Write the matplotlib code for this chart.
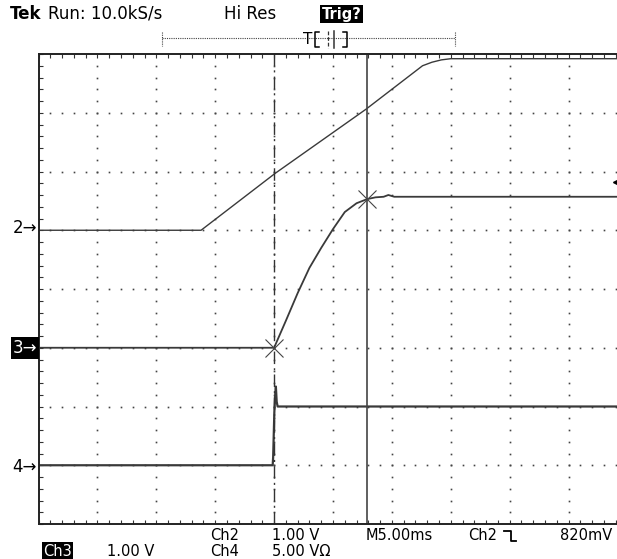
import numpy as np
import matplotlib.pyplot as plt
from matplotlib.lines import Line2D

W, H = 617, 559

# time in ms from left edge of screen (5 ms/div), volts per channel
ch2_t = [0, 13.8, 20.1, 27.8, 32.6, 33.4, 34.2, 35.0, 51]
ch2_v = [0, 0, 0.97, 2.06, 2.80, 2.86, 2.90, 2.92, 2.92]
ch3_t = [0, 20.0, 21.0, 22.0, 23.0, 24.0, 25.0, 26.0, 27.0, 27.9, 28.6, 29.3, 29.7, 30.2, 51]
ch3_v = [0, 0, 0.46, 0.93, 1.36, 1.70, 2.02, 2.31, 2.46, 2.53, 2.56, 2.57, 2.60, 2.57, 2.57]
ch4_t = [0, 19.88, 19.92, 20.02, 20.08, 20.15, 20.22, 20.3, 51]
ch4_v = [0, 0, 0.7, 4.5, 5.8, 6.7, 5.4, 5.0, 5.0]

gnd = {'2': 5.0, '3': 3.0, '4': 1.0}      # ground level in divisions
vdiv = {'2': 1.0, '3': 1.0, '4': 5.0}     # volts / div
cursor_t = [20.0, 27.9]
trig_level = 0.82

def div(ch, v):
    return gnd[ch] + np.asarray(v) / vdiv[ch]

fig = plt.figure(figsize=(W / 100, H / 100), dpi=100)
ax = fig.add_axes([38.5 / W, (H - 524) / H, 589 / W, 470 / H])
ax.set_xlim(0, 50)
ax.set_ylim(0, 8)

# graticule dots
for gx in range(5, 50, 5):
    yy = np.arange(0.2, 8, 0.2)
    ax.plot(np.full_like(yy, gx), yy, ls='none', marker='s', ms=1.2, mew=0, color='#444444')
for gy in range(1, 8):
    xx = np.arange(1, 50, 1.0)
    ax.plot(xx, np.full_like(xx, gy), ls='none', marker='s', ms=1.2, mew=0, color='#444444')

ax.set_xticks(np.arange(0, 51, 1), minor=True)
ax.set_yticks(np.arange(0, 8.01, 0.2), minor=True)
ax.set_xticks([])
ax.set_yticks([])
ax.tick_params(which='minor', direction='in', length=3, width=0.8,
               top=True, bottom=True, left=True, right=True,
               labelbottom=False, labelleft=False, color='#333333')
for s in ax.spines.values():
    s.set_linewidth(1.4)
    s.set_color('#222222')

# traces
ax.plot(ch2_t, div('2', ch2_v), color='#3a3a3a', lw=1.0)
ax.plot(ch3_t, div('3', ch3_v), color='#3a3a3a', lw=1.3)
ax.plot(ch4_t, div('4', ch4_v), color='#3a3a3a', lw=1.6)

# cursors
ax.axvline(cursor_t[0], color='#333333', lw=1.0, ls=(0, (9, 3, 1.5, 3)))
ax.axvline(cursor_t[1], color='#444444', lw=1.2)
ax.plot(cursor_t, div('3', np.interp(cursor_t, ch3_t, ch3_v)), ls='none',
        marker='x', ms=13, mew=0.8, color='#444444')

# trigger level marker
ax.plot([49.4], [gnd['2'] + trig_level], marker='<', ms=10, color='black', clip_on=False)

def ft(px, py, s, **kw):
    kw.setdefault('fontsize', 10.5)
    kw.setdefault('va', 'center')
    return fig.text(px / W, 1 - py / H, s, **kw)

def fl(xs, ys, **kw):
    fig.add_artist(Line2D([x / W for x in xs], [1 - y / H for y in ys], **kw))

# ground markers
ft(37, 228, '2\u2192', ha='right', fontsize=12)
ft(37, 467, '4\u2192', ha='right', fontsize=12)
ft(37, 348, '3\u2192', ha='right', color='white', fontsize=12,
   bbox=dict(facecolor='black', edgecolor='none', pad=1.5))

# header
ft(10, 14, 'Tek', fontweight='bold', fontsize=12)
ft(48, 14, 'Run: 10.0kS/s', fontsize=12)
ft(224, 14, 'Hi Res', fontsize=12)
ft(322, 14, 'Trig?', color='white', fontweight='bold',
   bbox=dict(facecolor='black', edgecolor='none', pad=1.2))

# record bar
fl([162, 455], [38, 38], color='#444444', lw=0.8, ls=(0, (1, 1)))
fl([162, 162], [32, 46], color='#444444', lw=0.8, ls=(0, (1, 1)))
fl([455, 455], [32, 46], color='#444444', lw=0.8, ls=(0, (1, 1)))
ft(303, 39, 'T', fontsize=11)
fl([319, 315, 315, 319], [32, 32, 47, 47], color='black', lw=1.1)
fl([343, 347, 347, 343], [32, 32, 47, 47], color='black', lw=1.1)
fl([328, 328], [31, 48], color='#333333', lw=0.9, ls=(0, (3, 1.5)))
fl([334, 334], [31, 48], color='#333333', lw=1.1)

# footer
ft(210, 536, 'Ch2')
ft(272, 536, '1.00 V')
ft(366, 536, 'M5.00ms')
ft(468, 536, 'Ch2')
fl([504, 511, 511, 516], [531, 531, 541, 541], color='black', lw=1.3)
ft(560, 536, '820mV')
ft(43, 551, 'Ch3', color='white', bbox=dict(facecolor='black', edgecolor='none', pad=0.8))
ft(107, 551, '1.00 V')
ft(210, 551, 'Ch4')
ft(272, 551, '5.00 V\u03a9')

fig.savefig('out.png', dpi=100)
